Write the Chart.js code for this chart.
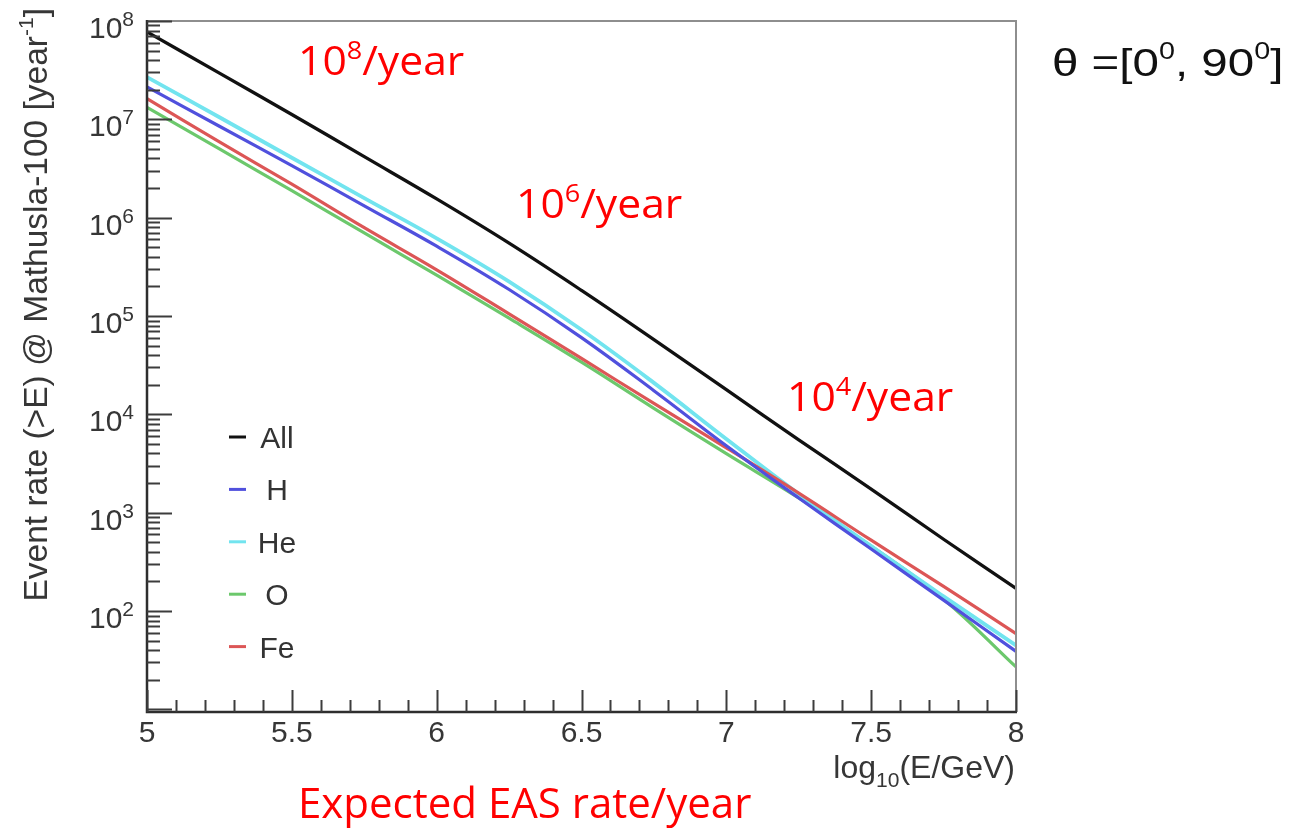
<!DOCTYPE html>
<html>
<head>
<meta charset="utf-8">
<script src="https://cdn.jsdelivr.net/npm/chart.js@4.4.1/dist/chart.umd.min.js"></script>
<style>
  html, body { margin: 0; padding: 0; background: #ffffff; }
  canvas { display: block; }
</style>
</head>
<body>
<canvas id="rateChart" width="1314" height="831"></canvas>
<script>
// Integral EAS event rate above energy E, per primary species
const energies = [5, 5.25, 5.5, 5.75, 6, 6.25, 6.5, 6.75, 7, 7.25, 7.5, 7.75, 8];
const rateAll = [7.76e7, 2.95e7, 1.12e7, 4.17e6, 1.55e6, 5.5e5, 1.82e5, 5.75e4, 1.78e4, 5.5e3, 1.74e3, 537, 170];
const rateH   = [2.14e7, 8.5e6, 3.39e6, 1.32e6, 5.13e5, 1.86e5, 6.03e4, 1.74e4, 4.79e3, 1.41e3, 427, 129, 38.9];
const rateHe  = [2.69e7, 1.05e7, 4.07e6, 1.58e6, 6.17e5, 2.24e5, 7.24e4, 2.09e4, 5.62e3, 1.55e3, 457, 141, 44.7];
const rateO   = [1.32e7, 5.0e6, 1.88e6, 7.0e5, 2.6e5, 9.5e4, 3.39e4, 1.15e4, 3.98e3, 1.41e3, 457, 132, 27];
const rateFe  = [1.62e7, 5.9e6, 2.19e6, 7.9e5, 2.95e5, 1.05e5, 3.7e4, 1.29e4, 4.57e3, 1.58e3, 525, 178, 58.9];

const seriesNames = ['All', 'H', 'He', 'O', 'Fe'];
const seriesRates = [rateAll, rateH, rateHe, rateO, rateFe];

const xTickValues = [5, 5.5, 6, 6.5, 7, 7.5, 8];
const xTickLabels = ['5', '5.5', '6', '6.5', '7', '7.5', '8'];
const yTickValues = [1e2, 1e3, 1e4, 1e5, 1e6, 1e7, 1e8];
const yTickExponents = ['2', '3', '4', '5', '6', '7', '8'];

const rateNotes = [
  { base: '10', exp: '8', unit: '/year' },
  { base: '10', exp: '6', unit: '/year' },
  { base: '10', exp: '4', unit: '/year' }
];
const captionText = 'Expected EAS rate/year';
const zenithText = { lead: 'θ =[0', sup1: '0', mid: ', 90', sup2: '0', tail: ']' };

// ---- styling ----
const lineColors = { All: '#111111', H: '#5050dd', He: '#72e4ef', O: '#6cc86c', Fe: '#dc5656' };
const lineWidths = { All: 3.3, H: 3.2, He: 3.8, O: 3.2, Fe: 3.2 };
const drawOrder  = { All: 0, H: 1, Fe: 2, He: 3, O: 4 };
const ROOT_FONT = '"Liberation Sans", Arial, Helvetica, sans-serif';
const NOTE_FONT = '"Open Sans", "Noto Sans", sans-serif';
const AXIS_INK = '#363636';

// draws a sequence of text runs (different sizes / vertical shifts) on one baseline
function drawRuns(ctx, runs, x, y, align, family, color, sx) {
  sx = sx || 1;
  ctx.save();
  ctx.fillStyle = color;
  ctx.textBaseline = 'alphabetic';
  ctx.textAlign = 'left';
  const widths = runs.map(r => { ctx.font = r.size + 'px ' + family; return ctx.measureText(r.text).width; });
  const total = widths.reduce((a, b) => a + b, 0) * sx;
  const start = align === 'right' ? x - total : (align === 'center' ? x - total / 2 : x);
  ctx.translate(start, y);
  ctx.scale(sx, 1);
  let cx = 0;
  runs.forEach((r, i) => {
    ctx.font = r.size + 'px ' + family;
    ctx.fillText(r.text, cx, r.dy || 0);
    cx += widths[i];
  });
  ctx.restore();
}

const rootFrame = {
  id: 'rootFrame',
  beforeDatasetsDraw(chart) {
    chart.ctx.save();
    chart.ctx.filter = 'blur(0.5px)';
  },
  afterDatasetsDraw(chart) {
    chart.ctx.restore();
  },
  afterDraw(chart) {
    const ctx = chart.ctx;
    const a = chart.chartArea;
    const xs = chart.scales.x;
    const ys = chart.scales.y;

    ctx.save();
    // frame: light top/right, dark left/bottom
    ctx.lineCap = 'butt';
    ctx.strokeStyle = '#8e8e8e';
    ctx.lineWidth = 2;
    ctx.beginPath();
    ctx.moveTo(a.left, a.top); ctx.lineTo(a.right, a.top); ctx.lineTo(a.right, a.bottom);
    ctx.stroke();

    ctx.strokeStyle = '#2e2e2e';
    ctx.lineWidth = 2.5;
    ctx.beginPath();
    ctx.moveTo(a.left, a.top - 1); ctx.lineTo(a.left, a.bottom); ctx.lineTo(a.right + 1, a.bottom);
    ctx.stroke();

    // inward ticks on the log axis: decades long, 2..9 short
    ctx.lineWidth = 2;
    ctx.strokeStyle = '#3c3c3c';
    ctx.beginPath();
    for (let n = 0; n <= 8; n++) {
      for (let m = 1; m <= 9; m++) {
        const v = m * Math.pow(10, n);
        if (v < ys.min || v > ys.max * 1.0001) continue;
        const py = Math.round(ys.getPixelForValue(v)) + 0.5;
        const len = m === 1 ? 25 : 13;
        ctx.moveTo(a.left, py); ctx.lineTo(a.left + len, py);
      }
    }
    // inward ticks on the energy axis: every 0.1, long at every 0.5
    for (let i = 0; i <= 30; i++) {
      const v = 5 + i / 10;
      const px = Math.round(xs.getPixelForValue(v)) + 0.5;
      const len = i % 5 === 0 ? 22 : 12;
      ctx.moveTo(px, a.bottom); ctx.lineTo(px, a.bottom - len);
    }
    ctx.stroke();
    ctx.restore();

    // tick labels
    xTickValues.forEach((v, i) => {
      drawRuns(ctx, [{ text: xTickLabels[i], size: 30 }], xs.getPixelForValue(v), 742, 'center', ROOT_FONT, AXIS_INK);
    });
    yTickValues.forEach((v, i) => {
      const py = ys.getPixelForValue(v);
      drawRuns(ctx, [{ text: '10', size: 30 }, { text: yTickExponents[i], size: 21, dy: -12 }],
        134, py + 17, 'right', ROOT_FONT, AXIS_INK);
    });

    // axis titles
    drawRuns(ctx, [{ text: 'log', size: 32 }, { text: '10', size: 21, dy: 9 }, { text: '(E/GeV)', size: 32 }],
      1015, 778, 'right', ROOT_FONT, AXIS_INK);
    ctx.save();
    ctx.translate(47, 8);
    ctx.rotate(-Math.PI / 2);
    drawRuns(ctx, [{ text: 'Event rate (>E) @ Mathusla-100 [year', size: 33.5 }, { text: '-1', size: 21, dy: -14 }, { text: ']', size: 33.5 }],
      0, 0, 'right', ROOT_FONT, AXIS_INK);
    ctx.restore();

    // legend inside the frame, built from the datasets
    chart.data.datasets.forEach((ds, i) => {
      const cy = 437 + i * 52.4;
      ctx.save();
      ctx.strokeStyle = ds.borderColor;
      ctx.lineWidth = 3;
      ctx.beginPath();
      ctx.moveTo(229, cy); ctx.lineTo(246, cy);
      ctx.stroke();
      ctx.restore();
      drawRuns(ctx, [{ text: ds.label, size: 30 }], 277, cy + 11, 'center', ROOT_FONT, '#333333');
    });

    // red rate notes along the curve
    const notePos = [[298, 75], [516, 218], [787, 411]];
    rateNotes.forEach((n, i) => {
      drawRuns(ctx, [{ text: n.base, size: 41 }, { text: n.exp, size: 26, dy: -16 }, { text: n.unit, size: 41 }],
        notePos[i][0], notePos[i][1], 'left', NOTE_FONT, '#ff0000', 1.04);
    });
    drawRuns(ctx, [{ text: captionText, size: 42 }], 298, 818, 'left', NOTE_FONT, '#ff0000');

    // zenith range
    drawRuns(ctx, [
      { text: zenithText.lead, size: 38 }, { text: zenithText.sup1, size: 23, dy: -17 },
      { text: zenithText.mid, size: 38 }, { text: zenithText.sup2, size: 23, dy: -17 },
      { text: zenithText.tail, size: 38 }
    ], 1052, 76, 'left', ROOT_FONT, '#111111', 1.25);
  }
};

const datasets = seriesNames.map((name, i) => ({
  label: name,
  data: energies.map((e, j) => ({ x: e, y: seriesRates[i][j] })),
  borderColor: lineColors[name],
  backgroundColor: lineColors[name],
  borderWidth: lineWidths[name],
  order: drawOrder[name],
  pointRadius: 0,
  fill: false,
  tension: 0.4
}));

new Chart(document.getElementById('rateChart'), {
  type: 'line',
  data: { datasets },
  options: {
    responsive: false,
    animation: false,
    devicePixelRatio: 1,
    layout: { padding: { top: 21, right: 298, left: 0, bottom: 0 } },
    plugins: { legend: { display: false }, tooltip: { enabled: false } },
    scales: {
      x: {
        type: 'linear', min: 5, max: 8,
        grid: { display: false }, border: { display: false },
        ticks: { display: false },
        afterFit(s) { s.height = 119; }
      },
      y: {
        type: 'logarithmic', min: 9.4, max: 1e8,
        grid: { display: false }, border: { display: false },
        ticks: { display: false },
        afterFit(s) { s.width = 147; }
      }
    }
  },
  plugins: [rootFrame]
});
</script>
</body>
</html>
